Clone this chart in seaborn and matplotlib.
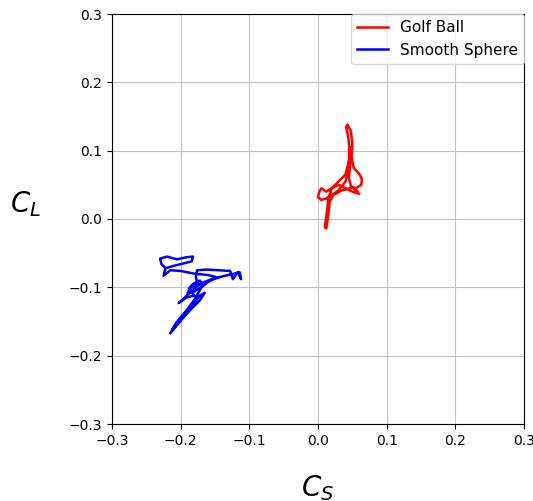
import matplotlib
matplotlib.use("Agg")
import matplotlib.pyplot as plt
import seaborn as sns
import pandas as pd

golf_cs = [0.060, 0.050, 0.040, 0.030, 0.020, 0.012, 0.005, 0.002, 0.000, 0.005, 0.012, 0.020, 0.030, 0.040, 0.045,
           0.046, 0.044, 0.041, 0.043, 0.048, 0.050, 0.049, 0.052, 0.060, 0.064, 0.063, 0.055, 0.048, 0.045, 0.047,
           0.047, 0.045, 0.040, 0.030, 0.020, 0.015, 0.013, 0.010, 0.012, 0.015, 0.017, 0.022, 0.035, 0.050, 0.058]
golf_cl = [0.037, 0.040, 0.045, 0.050, 0.045, 0.040, 0.045, 0.040, 0.032, 0.028, 0.030, 0.035, 0.042, 0.055, 0.075,
           0.100, 0.120, 0.135, 0.138, 0.128, 0.110, 0.090, 0.075, 0.066, 0.058, 0.050, 0.045, 0.048, 0.060, 0.080,
           0.105, 0.085, 0.065, 0.055, 0.045, 0.030, 0.010, -0.012, -0.014, 0.005, 0.025, 0.035, 0.042, 0.046, 0.040]

smooth_cs = [-0.215, -0.205, -0.195, -0.183, -0.172, -0.165, -0.172, -0.182, -0.195, -0.208, -0.213, -0.205, -0.190,
             -0.178, -0.170, -0.160, -0.148, -0.135, -0.122, -0.114, -0.112, -0.117, -0.124, -0.128, -0.145, -0.162,
             -0.176, -0.178, -0.175, -0.185, -0.190, -0.180, -0.168, -0.172, -0.182, -0.188, -0.180, -0.192, -0.203,
             -0.195, -0.183, -0.170, -0.155, -0.145, -0.160, -0.180, -0.200, -0.215, -0.225, -0.222, -0.208, -0.196,
             -0.184, -0.182, -0.192, -0.205, -0.220, -0.230, -0.228, -0.224]
smooth_cl = [-0.167, -0.155, -0.143, -0.130, -0.119, -0.108, -0.112, -0.125, -0.140, -0.155, -0.163, -0.150, -0.132,
             -0.115, -0.100, -0.092, -0.086, -0.083, -0.080, -0.078, -0.088, -0.078, -0.088, -0.076, -0.075, -0.074,
             -0.075, -0.085, -0.095, -0.100, -0.108, -0.106, -0.098, -0.090, -0.095, -0.102, -0.112, -0.115, -0.123,
             -0.116, -0.104, -0.094, -0.088, -0.086, -0.082, -0.080, -0.076, -0.075, -0.083, -0.072, -0.068, -0.065,
             -0.062, -0.055, -0.056, -0.059, -0.055, -0.058, -0.066, -0.070]

ticks = [-0.3, -0.2, -0.1, 0.0, 0.1, 0.2, 0.3]

golf = pd.DataFrame({"cs": golf_cs, "cl": golf_cl})
smooth = pd.DataFrame({"cs": smooth_cs, "cl": smooth_cl})

fig = plt.figure(figsize=(5.33, 5.01), dpi=100)
ax = fig.add_axes([112 / 533, 77 / 501, 412 / 533, 410 / 501])

sns.lineplot(data=golf, x="cs", y="cl", sort=False, estimator=None, color="red", lw=1.8, label="Golf Ball", ax=ax)
sns.lineplot(data=smooth, x="cs", y="cl", sort=False, estimator=None, color="blue", lw=1.8, label="Smooth Sphere", ax=ax)

ax.set_xlim(-0.3, 0.3)
ax.set_ylim(-0.3, 0.3)
ax.set_xticks(ticks)
ax.set_yticks(ticks)
ax.set_xticklabels([f"{t:.1f}".replace("-", "\u2212") for t in ticks])
ax.set_yticklabels([f"{t:.1f}".replace("-", "\u2212") for t in ticks])
ax.tick_params(labelsize=10)
ax.grid(True, color="#c0c0c0", lw=0.8)
ax.set_axisbelow(True)
ax.set_xlabel(r"$C_S$", fontsize=20, labelpad=18)
ax.set_ylabel(r"$C_L$", fontsize=20, rotation=0, labelpad=30)
ax.yaxis.set_label_coords(-0.21, 0.50)
ax.legend(loc="upper right", borderaxespad=0, fontsize=11)

fig.savefig("out.png", dpi=100)
